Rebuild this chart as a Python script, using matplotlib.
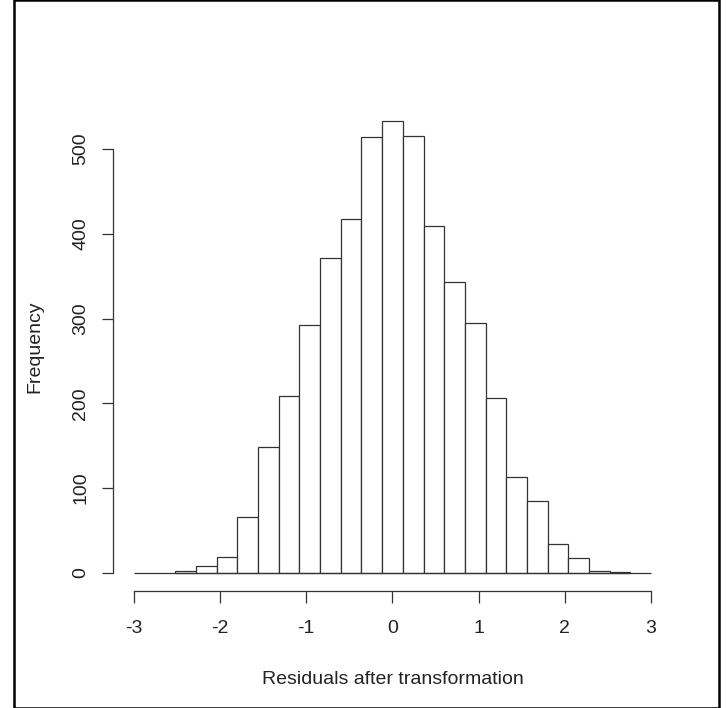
import matplotlib
matplotlib.use("Agg")
import matplotlib.pyplot as plt
from matplotlib.patches import Rectangle

# Data
bin_edges = [-2.52, -2.28, -2.04, -1.80, -1.56, -1.32, -1.08, -0.84, -0.60, -0.36,
             -0.12, 0.12, 0.36, 0.60, 0.84, 1.08, 1.32, 1.56, 1.80, 2.04, 2.28, 2.52, 2.76]
counts = [2, 8, 19, 66, 149, 209, 293, 372, 417, 514, 533, 515, 409, 343,
          295, 206, 113, 85, 34, 18, 2, 1]
x_ticks = [-3, -2, -1, 0, 1, 2, 3]
y_ticks = [0, 100, 200, 300, 400, 500]
x_label = "Residuals after transformation"
y_label = "Frequency"

plt.rcParams['font.family'] = ['Liberation Sans', 'DejaVu Sans']

W, H = 726, 708
fig = plt.figure(figsize=(W / 100, H / 100), dpi=100)
fig.patch.set_facecolor('white')

# Axes placement (pixel-based)
left_px, right_px = 113.2, 671.8
top_px, bottom_px = 103.0, 591.0
ax = fig.add_axes([left_px / W, 1 - bottom_px / H,
                   (right_px - left_px) / W, (bottom_px - top_px) / H])

widths = [bin_edges[i + 1] - bin_edges[i] for i in range(len(counts))]
ax.bar(bin_edges[:-1], counts, width=widths, align='edge',
       facecolor='white', edgecolor='#333333', linewidth=0.9)
ax.hlines(0, x_ticks[0], x_ticks[-1], color='#333333', linewidth=0.9)

ax.set_xlim(-3.24, 3.24)
ax.set_ylim(-21.32, 554.32)

for s in ['top', 'right']:
    ax.spines[s].set_visible(False)
ax.spines['left'].set_bounds(y_ticks[0], y_ticks[-1])
ax.spines['bottom'].set_bounds(x_ticks[0], x_ticks[-1])
for s in ['left', 'bottom']:
    ax.spines[s].set_color('#333333')
    ax.spines[s].set_linewidth(0.9)

fs = 14
ax.set_xticks(x_ticks)
ax.set_xticklabels([str(v) for v in x_ticks], fontsize=fs, color='#222222')
ax.set_yticks(y_ticks)
ax.set_yticklabels([str(v) for v in y_ticks], fontsize=fs, color='#222222',
                   rotation=90, va='center')
ax.tick_params(axis='x', length=8.4, width=0.9, color='#333333', pad=12.8)
ax.tick_params(axis='y', length=7.9, width=0.9, color='#333333', pad=9.2)

ax.set_xlabel(x_label, fontsize=fs, color='#222222', labelpad=24)
ax.set_ylabel(y_label, fontsize=fs, color='#222222', labelpad=21)

# Outer frame
fig.patches.append(Rectangle((14 / W, 0), (719 - 14) / W, (H - 7) / H + 0.01,
                             transform=fig.transFigure, fill=False,
                             edgecolor='black', linewidth=1.8, clip_on=False))

fig.savefig("out.png", dpi=100, facecolor='white')
